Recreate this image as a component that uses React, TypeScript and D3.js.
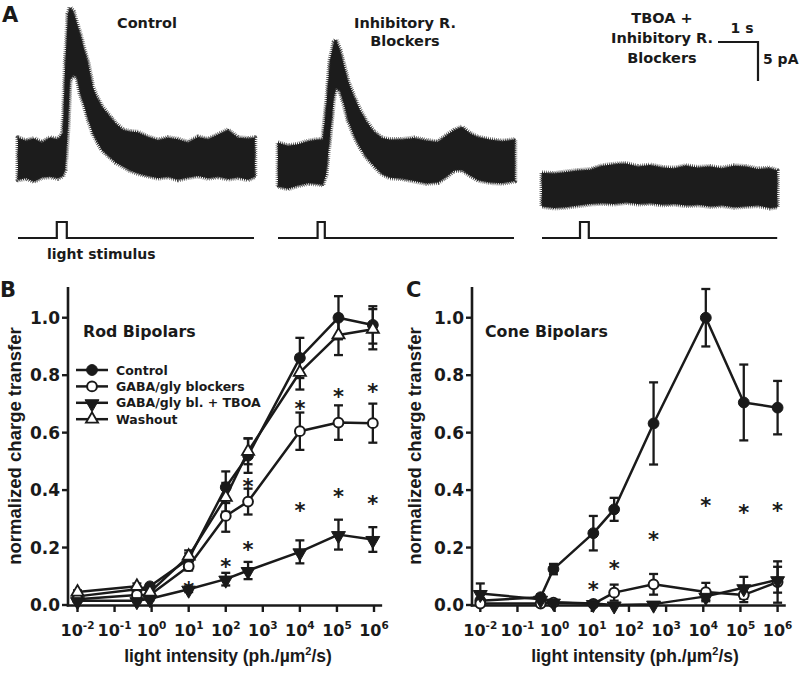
import React from 'react';
import * as d3 from 'd3';

// ---------- Panel A: recorded current envelopes (time s, current pA rel. baseline) ----------
const ctrlTraceT = [0, 0.2, 0.4, 0.6, 0.8, 1.0, 1.12, 1.18, 1.25, 1.3, 1.38, 1.47, 1.55, 1.65, 1.75, 1.87, 1.97, 2.1, 2.3, 2.45, 2.63, 2.8, 3.0, 3.25, 3.5, 3.75, 4.0, 4.25, 4.5, 4.75, 5.0, 5.25, 5.5, 5.75, 5.92];
const ctrlTraceHi = [2.6, 2.2, 2.5, 2.0, 2.6, 2.4, 3.2, 12, 18.5, 19.3, 18.8, 17.3, 16.0, 14.0, 12.2, 9.1, 7.8, 6.6, 5.3, 4.4, 3.6, 3.4, 3.3, 2.7, 2.3, 2.6, 2.4, 2.0, 2.7, 2.4, 3.0, 3.6, 2.6, 2.5, 2.6];
const ctrlTraceLo = [-2.8, -2.6, -3.0, -2.5, -2.4, -2.6, -2.3, -1.5, 4.0, 10.0, 10.6, 10.4, 8.3, 6.8, 5.0, 3.2, 2.2, 1.0, 0.1, -0.6, -1.1, -1.6, -2.0, -2.3, -2.6, -2.4, -2.8, -2.5, -2.3, -2.6, -2.4, -2.7, -2.5, -2.8, -2.4];

const inhTraceT = [0, 0.25, 0.5, 0.75, 1.0, 1.12, 1.2, 1.3, 1.4, 1.45, 1.55, 1.65, 1.75, 1.9, 2.05, 2.2, 2.4, 2.6, 2.8, 3.1, 3.4, 3.7, 4.0, 4.2, 4.4, 4.6, 4.8, 5.0, 5.3, 5.6, 5.92];
const inhTraceHi = [2.6, 2.2, 2.4, 2.8, 3.0, 3.0, 7.0, 13.2, 15.5, 15.8, 14.5, 12.5, 10.5, 8.5, 6.8, 5.4, 4.0, 3.2, 3.0, 3.0, 3.2, 2.9, 2.7, 3.5, 4.2, 4.6, 3.8, 3.3, 3.0, 2.8, 3.0];
const inhTraceLo = [-3.0, -3.3, -2.9, -2.6, -2.7, -2.8, -1.5, 3.5, 8.5, 9.6, 9.2, 7.5, 5.5, 3.5, 2.0, 0.8, -0.4, -1.4, -1.9, -2.0, -2.3, -2.6, -2.5, -1.8, -1.0, -0.9, -1.6, -2.2, -2.5, -2.6, -2.3];

const tboaTraceT = [0, 0.3, 0.6, 0.9, 1.2, 1.5, 1.8, 2.1, 2.4, 2.7, 3.0, 3.3, 3.6, 3.9, 4.2, 4.5, 4.8, 5.1, 5.4, 5.7, 5.88];
const tboaTraceHi = [2.2, 2.1, 2.3, 2.5, 2.6, 3.1, 3.3, 3.4, 3.0, 3.2, 2.9, 2.8, 3.1, 2.9, 3.0, 2.8, 3.1, 3.0, 2.7, 2.8, 2.5];
const tboaTraceLo = [-2.1, -2.3, -2.2, -2.0, -1.8, -1.7, -1.8, -1.6, -1.8, -1.7, -1.9, -1.8, -2.0, -1.9, -2.1, -2.0, -2.2, -2.1, -2.0, -2.3, -2.2];

const stimOnset = [0.97, 0.99, 0.95];
const stimWidth = [0.25, 0.18, 0.22];
const traceDuration = [5.9, 5.9, 5.88];

// ---------- Panel B: rod bipolars ----------
const intensityB = [0.01, 0.4, 0.9, 10, 100, 400, 1e4, 1.1e5, 9.3e5];
const rodControl = [0.03, 0.055, 0.065, 0.16, 0.41, 0.52, 0.86, 1.0, 0.975];
const rodControlErr = [0.006, 0.01, 0.008, 0.02, 0.055, 0.06, 0.07, 0.075, 0.065];
const rodGaba = [0.02, 0.035, 0.035, 0.135, 0.31, 0.36, 0.605, 0.635, 0.633];
const rodGabaErr = [0.005, 0.008, 0.008, 0.015, 0.055, 0.045, 0.065, 0.06, 0.068];
const rodTboa = [0.015, 0.015, 0.022, 0.055, 0.09, 0.12, 0.185, 0.245, 0.228];
const rodTboaErr = [0.004, 0.006, 0.006, 0.01, 0.022, 0.03, 0.04, 0.052, 0.043];
const rodWash = [0.045, 0.065, 0.045, 0.17, 0.375, 0.535, 0.81, 0.94, 0.96];
const rodWashErr = [0.006, 0.01, 0.01, 0.02, 0.05, 0.045, 0.06, 0.07, 0.07];
const rodStarX = [10, 100, 400, 400, 1e4, 1e4, 1.1e5, 1.1e5, 9.3e5, 9.3e5];
const rodStarY = [0.07, 0.151, 0.209, 0.429, 0.348, 0.70, 0.394, 0.742, 0.371, 0.76];

// ---------- Panel C: cone bipolars ----------
const intensityC = [0.01, 0.42, 0.93, 11, 40, 460, 1.17e4, 1.23e5, 1e6];
const coneControl = [0.015, 0.027, 0.125, 0.25, 0.333, 0.632, 1.0, 0.705, 0.687];
const coneControlErr = [0.005, 0.01, 0.018, 0.06, 0.04, 0.143, 0.1, 0.132, 0.093];
const coneGaba = [0.005, 0.005, 0.008, 0.004, 0.043, 0.072, 0.045, 0.035, 0.08];
const coneGabaErr = [0.004, 0.004, 0.004, 0.003, 0.028, 0.036, 0.032, 0.025, 0.072];
const coneTboa = [0.04, 0.02, 0.01, 0.005, 0.0, 0.003, 0.03, 0.06, 0.088];
const coneTboaErr = [0.035, 0.008, 0.004, 0.003, 0.003, 0.004, 0.012, 0.038, 0.045];
const coneStarX = [11, 40, 460, 1.17e4, 1.23e5, 1e6];
const coneStarY = [0.07, 0.145, 0.244, 0.365, 0.34, 0.345];

const xTickExp = [-2, -1, 0, 1, 2, 3, 4, 5, 6];
const yTicks = [0, 0.2, 0.4, 0.6, 0.8, 1.0];
const legendLabels = ['Control', 'GABA/gly blockers', 'GABA/gly bl. + TBOA', 'Washout'];

const FONT = '"DejaVu Sans", Verdana, sans-serif';
const FONT2 = '"Liberation Sans", Arial, sans-serif';
const INK = '#1a1a1a';

type Kind = 'filledCircle' | 'openCircle' | 'downTri' | 'upTri';

function Marker({ kind, x, y }: { kind: Kind; x: number; y: number }) {
  if (kind === 'filledCircle') return <circle cx={x} cy={y} r={5.4} fill={INK} stroke={INK} strokeWidth={1} />;
  if (kind === 'openCircle') return <circle cx={x} cy={y} r={4.9} fill="#fff" stroke={INK} strokeWidth={2} />;
  const p = d3.symbol().type(d3.symbolTriangle).size(kind === 'downTri' ? 84 : 64)() as string;
  if (kind === 'downTri')
    return <path d={p} transform={`translate(${x},${y + 1}) rotate(180)`} fill={INK} stroke={INK} strokeWidth={1} />;
  return <path d={p} transform={`translate(${x},${y})`} fill="#fff" stroke={INK} strokeWidth={1.8} />;
}

type Series = { x: number[]; y: number[]; e: number[]; kind: Kind };

function Trace({ x0, base, t, hi, lo }: { x0: number; base: number; t: number[]; hi: number[]; lo: number[] }) {
  const xs = d3.scaleLinear().domain([0, 1]).range([x0, x0 + 40]);
  const ys = d3.scaleLinear().domain([0, 5]).range([base, base - 39]);
  const area = d3
    .area<number>()
    .x((_, i) => xs(t[i]))
    .y0((_, i) => ys(lo[i]))
    .y1((_, i) => ys(hi[i]));
  const d = area(t) as string;
  return (
    <g>
      <path d={d} fill="none" stroke="#555" strokeWidth={5} strokeDasharray="0.7 1.3" strokeLinejoin="round" />
      <path d={d} fill="#1c1c1c" stroke="#262626" strokeWidth={2.4} strokeDasharray="1 1.2" strokeLinejoin="round" />
    </g>
  );
}

function Stim({ x0, idx }: { x0: number; idx: number }) {
  const xs = d3.scaleLinear().domain([0, 1]).range([x0, x0 + 40]);
  const yb = 238;
  const yt = 222;
  const d = `M${xs(0)},${yb}H${xs(stimOnset[idx])}V${yt}H${xs(stimOnset[idx] + stimWidth[idx])}V${yb}H${xs(traceDuration[idx])}`;
  return <path d={d} fill="none" stroke={INK} strokeWidth={2.2} />;
}

function Panel({
  axisX, x0, x1, series, starX, starY, title, titleX, legend, yLabelX, xLabelX,
}: {
  axisX: number; x0: number; x1: number; series: Series[]; starX: number[]; starY: number[];
  title: string; titleX: number; legend: boolean; yLabelX: number; xLabelX: number;
}) {
  const xs = d3.scaleLog().domain([1e-2, 1e6]).range([x0, x1]);
  const ys = d3.scaleLinear().domain([0, 1.1]).range([605, 289]);
  const line = d3.line<number>();
  const axisEnd = xs(10 ** 6.22);
  return (
    <g>
      {/* axes */}
      <line x1={axisX} x2={axisX} y1={287} y2={606.5} stroke={INK} strokeWidth={2.6} />
      <line x1={axisX - 1.3} x2={axisEnd} y1={605.5} y2={605.5} stroke={INK} strokeWidth={2.6} />
      {yTicks.map((v) => (
        <g key={v}>
          <line x1={axisX - 6} x2={axisX} y1={ys(v)} y2={ys(v)} stroke={INK} strokeWidth={2.4} />
          <text x={axisX - 8} y={ys(v)} dy="0.36em" textAnchor="end" fontFamily={FONT} fontWeight="bold" fontSize={17} fill={INK}>
            {v.toFixed(1)}
          </text>
        </g>
      ))}
      {xTickExp.map((k) => (
        <g key={k}>
          <line x1={xs(10 ** k)} x2={xs(10 ** k)} y1={605} y2={612} stroke={INK} strokeWidth={2.4} />
          <text x={xs(10 ** k)} y={636} textAnchor="middle" fontFamily={FONT} fontWeight="bold" fontSize={16} fill={INK}>
            <tspan>10</tspan>
            <tspan dy={-7} fontSize={10.5}>{String(k)}</tspan>
          </text>
        </g>
      ))}
      <text
        transform={`translate(${yLabelX},446) rotate(-90)`}
        textAnchor="middle"
        fontFamily={FONT2}
        fontWeight="bold"
        fontSize={18.5}
        fill={INK}
      >
        normalized charge transfer
      </text>
      <text x={xLabelX} y={662} textAnchor="middle" fontFamily={FONT2} fontWeight="bold" fontSize={17.5} fill={INK}>
        light intensity (ph./µm<tspan dy={-7} fontSize={11}>2</tspan>
        <tspan dy={7}>/s)</tspan>
      </text>
      <text x={titleX} y={337} fontFamily={FONT} fontWeight="bold" fontSize={15.8} fill={INK}>
        {title}
      </text>
      {/* lines */}
      {series.map((s, si) => (
        <path
          key={'l' + si}
          d={line(s.x.map((xv, i) => [xs(xv), ys(s.y[i])]) as any) as string}
          fill="none"
          stroke={INK}
          strokeWidth={2.5}
          strokeLinejoin="round"
        />
      ))}
      {/* error bars */}
      {series.map((s, si) =>
        s.x.map((xv, i) => {
          const cx = xs(xv);
          const top = ys(s.y[i] + s.e[i]);
          const bot = ys(Math.max(0, s.y[i] - s.e[i]));
          return (
            <g key={'e' + si + '-' + i} stroke={INK} strokeWidth={2.3}>
              <line x1={cx} x2={cx} y1={top} y2={bot} />
              <line x1={cx - 4.5} x2={cx + 4.5} y1={top} y2={top} />
              <line x1={cx - 4.5} x2={cx + 4.5} y1={bot} y2={bot} />
            </g>
          );
        })
      )}
      {/* markers */}
      {series.map((s, si) =>
        s.x.map((xv, i) => <Marker key={'m' + si + '-' + i} kind={s.kind} x={xs(xv)} y={ys(s.y[i])} />)
      )}
      {/* significance stars */}
      {starX.map((xv, i) => (
        <text key={'s' + i} x={xs(xv)} y={ys(starY[i]) + 12.5} textAnchor="middle" fontFamily={FONT} fontWeight="bold" fontSize={21} fill={INK}>
          *
        </text>
      ))}
      {legend &&
        series.map((s, i) => {
          const ly = 370 + i * 16.4;
          return (
            <g key={'lg' + i}>
              <line x1={76} x2={108} y1={ly} y2={ly} stroke={INK} strokeWidth={2.5} />
              <Marker kind={s.kind} x={92} y={ly} />
              <text x={116} y={ly} dy="0.36em" fontFamily={FONT} fontWeight="bold" fontSize={12.5} fill={INK}>
                {legendLabels[i]}
              </text>
            </g>
          );
        })}
    </g>
  );
}

export default function App() {
  const rodSeries: Series[] = [
    { x: intensityB, y: rodControl, e: rodControlErr, kind: 'filledCircle' },
    { x: intensityB, y: rodGaba, e: rodGabaErr, kind: 'openCircle' },
    { x: intensityB, y: rodTboa, e: rodTboaErr, kind: 'downTri' },
    { x: intensityB, y: rodWash, e: rodWashErr, kind: 'upTri' },
  ];
  const coneSeries: Series[] = [
    { x: intensityC, y: coneControl, e: coneControlErr, kind: 'filledCircle' },
    { x: intensityC, y: coneGaba, e: coneGabaErr, kind: 'openCircle' },
    { x: intensityC, y: coneTboa, e: coneTboaErr, kind: 'downTri' },
  ];
  const textProps = { fontFamily: FONT, fontWeight: 'bold' as const, fill: INK };
  return (
    <svg width={800} height={674} style={{ position: 'absolute', left: 0, top: 0, background: '#fff' }}>
      <rect width={800} height={674} fill="#fff" />
      {/* Panel A */}
      <text x={2} y={22} fontSize={21} {...textProps}>A</text>
      <text x={147} y={28} fontSize={14.5} textAnchor="middle" {...textProps}>Control</text>
      <text x={405} y={28} fontSize={14.5} textAnchor="middle" {...textProps}>Inhibitory R.</text>
      <text x={405} y={46} fontSize={14.5} textAnchor="middle" {...textProps}>Blockers</text>
      <text x={662} y={23} fontSize={14.5} textAnchor="middle" {...textProps}>TBOA +</text>
      <text x={662} y={43} fontSize={14.5} textAnchor="middle" {...textProps}>Inhibitory R.</text>
      <text x={662} y={63} fontSize={14.5} textAnchor="middle" {...textProps}>Blockers</text>
      <Trace x0={18} base={158} t={ctrlTraceT} hi={ctrlTraceHi} lo={ctrlTraceLo} />
      <Trace x0={278} base={163} t={inhTraceT} hi={inhTraceHi} lo={inhTraceLo} />
      <Trace x0={542} base={190} t={tboaTraceT} hi={tboaTraceHi} lo={tboaTraceLo} />
      <Stim x0={18} idx={0} />
      <Stim x0={278} idx={1} />
      <Stim x0={542} idx={2} />
      <text x={47} y={259} fontSize={14} {...textProps}>light stimulus</text>
      {/* scale bar */}
      <path d="M718,42H758V81" fill="none" stroke={INK} strokeWidth={2.2} />
      <text x={742} y={33} fontSize={14} textAnchor="middle" {...textProps}>1 s</text>
      <text x={763} y={64} fontSize={14} {...textProps}>5 pA</text>

      {/* Panel B */}
      <text x={0} y={297} fontSize={21} {...textProps}>B</text>
      <Panel
        axisX={68}
        x0={77.5}
        x1={374}
        series={rodSeries}
        starX={rodStarX}
        starY={rodStarY}
        title="Rod Bipolars"
        titleX={83}
        legend={true}
        yLabelX={21}
        xLabelX={228}
      />
      {/* Panel C */}
      <text x={406} y={297} fontSize={21} {...textProps}>C</text>
      <Panel
        axisX={472}
        x0={480.3}
        x1={777.6}
        series={coneSeries}
        starX={coneStarX}
        starY={coneStarY}
        title="Cone Bipolars"
        titleX={485}
        legend={false}
        yLabelX={421}
        xLabelX={635}
      />
    </svg>
  );
}
